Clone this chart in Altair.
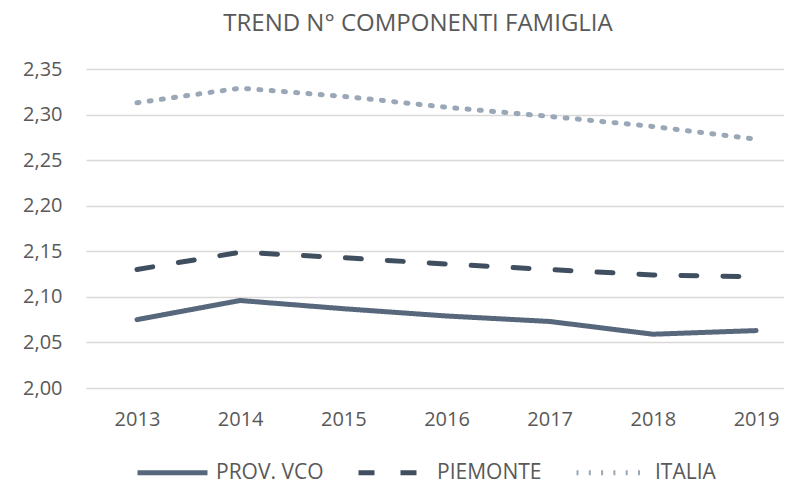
import altair as alt
import pandas as pd

years = [2013, 2014, 2015, 2016, 2017, 2018, 2019]
series_names = ["PROV. VCO", "PIEMONTE", "ITALIA"]
vco = [2.075, 2.096, 2.087, 2.079, 2.073, 2.059, 2.063]
piemonte = [2.130, 2.149, 2.143, 2.136, 2.130, 2.124, 2.122]
italia = [2.313, 2.329, 2.320, 2.308, 2.298, 2.287, 2.273]
y_ticks = [2.00, 2.05, 2.10, 2.15, 2.20, 2.25, 2.30, 2.35]
title_text = "TREND N° COMPONENTI FAMIGLIA"

colors = ["#57687C", "#404F60", "#9AA7B7"]
dashes = [[1, 0], [16, 26], [2, 10.3]]

rows = []
for name, vals in zip(series_names, [vco, piemonte, italia]):
    for yr, v in zip(years, vals):
        rows.append({"anno": yr, "valore": v, "serie": name})
df = pd.DataFrame(rows)

FONT = "Open Sans"
TXT = "#595959"

legend = alt.Legend(
    title=None, orient="none", legendX=49, legendY=366, direction="horizontal",
    symbolType="stroke", symbolSize=4900, symbolStrokeWidth=5,
    labelFontSize=21, labelColor=TXT, labelFont=FONT, labelOffset=6,
    columnPadding=24, padding=0,
)

chart = alt.Chart(df).mark_line(strokeWidth=5, strokeCap="round", strokeJoin="round").encode(
    x=alt.X("anno:Q",
            scale=alt.Scale(domain=[2012.506, 2019.271], nice=False, zero=False),
            axis=alt.Axis(values=years, format="d", title=None, ticks=False, domain=False, grid=False,
                          labelFontSize=20, labelColor=TXT, labelFont=FONT, labelPadding=21)),
    y=alt.Y("valore:Q",
            scale=alt.Scale(domain=[2.0, 2.35], nice=False, zero=False),
            axis=alt.Axis(values=y_ticks, labelExpr="replace(format(datum.value, '.2f'), '.', ',')",
                          title=None, ticks=False, domain=False, grid=True, gridColor="#D9D9D9", gridWidth=1.3,
                          labelFontSize=20, labelColor=TXT, labelFont=FONT, labelPadding=24)),
    color=alt.Color("serie:N", scale=alt.Scale(domain=series_names, range=colors), sort=series_names, legend=legend),
    strokeDash=alt.StrokeDash("serie:N", scale=alt.Scale(domain=series_names, range=dashes), sort=series_names, legend=legend),
    order=alt.Order("anno:Q"),
).properties(
    width=698, height=319, autosize="none",
    padding={"left": 78, "top": 61, "right": 0, "bottom": 96},
    title=alt.TitleParams(title_text, fontSize=24, font=FONT, fontWeight="normal", color=TXT,
                          anchor="middle", frame="group", offset=23, dx=-17),
).configure_view(stroke=None)

chart.save("out.html", embed_options={"renderer": "svg", "actions": False})
